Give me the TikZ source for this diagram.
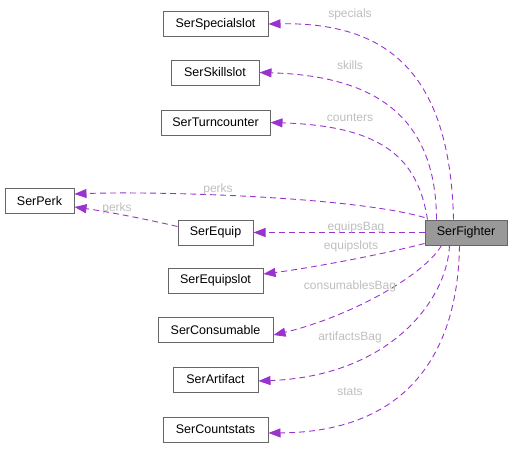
\documentclass[tikz,border=0pt]{standalone}
\usepackage{fontspec}
\setmainfont{Liberation Sans}
\usetikzlibrary{arrows.meta,calc}
\definecolor{edgec}{HTML}{9A32CD}
\definecolor{labc}{HTML}{BEBEBE}
\definecolor{bordc}{HTML}{666666}
\definecolor{fighterc}{HTML}{999999}
\begin{document}
\begin{tikzpicture}[x=1pt,y=-1pt,
  cls/.style={draw=bordc,line width=1pt,fill=white,inner sep=0pt,minimum height=25pt,font=\fontsize{12.5}{14}\selectfont,text=black},
  dep/.style={draw=edgec,line width=0.9pt,dash pattern=on 6pt off 4pt,-{Triangle[length=12pt,width=9pt,fill=edgec]}},
  lab/.style={text=labc,font=\fontsize{12}{14}\selectfont,inner sep=0pt}]
\useasboundingbox (0,0) rectangle (512,448);
\node[cls,minimum width=105pt] (spec) at (215.5,24) {SerSpecialslot};
\node[cls,minimum width=88pt] (skill) at (215,72.5) {SerSkillslot};
\node[cls,minimum width=109pt] (turn) at (215.5,122.5) {SerTurncounter};
\node[cls,minimum width=69pt] (perk) at (39.5,201) {SerPerk};
\node[cls,minimum width=75pt] (equip) at (215.5,232.5) {SerEquip};
\node[cls,minimum width=82pt,fill=fighterc] (fight) at (466,232.5) {SerFighter};
\node[cls,minimum width=95pt] (eqslot) at (215.5,280.5) {SerEquipslot};
\node[cls,minimum width=115pt] (cons) at (215.5,330) {SerConsumable};
\node[cls,minimum width=85pt] (art) at (215.5,379.5) {SerArtifact};
\node[cls,minimum width=105pt] (count) at (215.5,429.5) {SerCountstats};

\draw[dep] ($(fight.north west)+(29,0)$) .. controls (450,70) and (385,22) .. (spec.east);
\draw[dep] ($(fight.north west)+(12,0)$) .. controls (436,125) and (385,76) .. (skill.east);
\draw[dep] ($(fight.north west)+(3,0)$) .. controls (418,160) and (385,126) .. (turn.east);
\draw[dep] ($(fight.north west)+(0,-2)$) .. controls (350,196) and (150,191) .. ($(perk.east)+(0,-7)$);
\draw[dep] ($(equip.west)+(0,-6)$) .. controls (150,220) and (110,212) .. ($(perk.east)+(0,6)$);
\draw[dep] (fight.west) -- (equip.east);
\draw[dep] ($(fight.south west)+(0,-2)$) .. controls (380,255) and (310,268) .. ($(eqslot.east)+(0,-6.5)$);
\draw[dep] ($(fight.south west)+(17,0)$) .. controls (422,278) and (345,318) .. ($(cons.east)+(0,5)$);
\draw[dep] ($(fight.south west)+(25,0)$) .. controls (447,300) and (390,376) .. ($(art.east)+(0,1.5)$);
\draw[dep] ($(fight.south west)+(35,0)$) .. controls (458,350) and (410,432) .. ($(count.east)+(0,3.5)$);

\node[lab] (l1) at (350,14) {specials};
\node[lab] (l2) at (350,65) {skills};
\node[lab] (l3) at (350,118) {counters};
\node[lab] (l4) at (218,189) {perks};
\node[lab] (l5) at (117,208) {perks};
\node[lab] (l6) at (356,227) {equipsBag};
\node[lab] (l7) at (351,246) {equipslots};
\node[lab] (l8) at (350,286) {consumablesBag};
\node[lab] (l9) at (350,337) {artifactsBag};
\node[lab] (l10) at (350,392) {stats};
\end{tikzpicture}
\end{document}
